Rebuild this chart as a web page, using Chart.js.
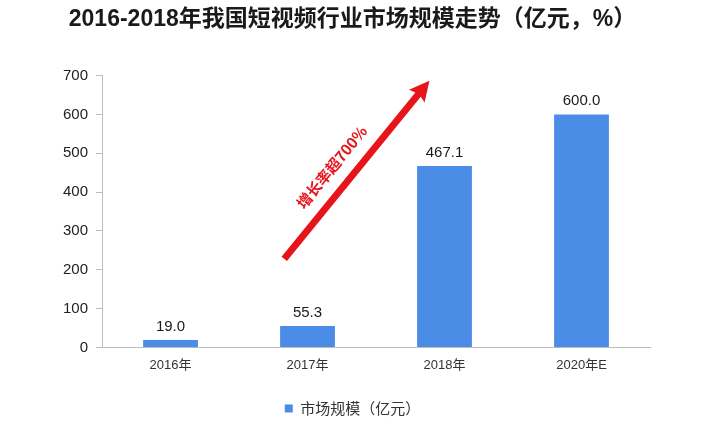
<!DOCTYPE html>
<html>
<head>
<meta charset="utf-8">
<script src="https://cdn.jsdelivr.net/npm/chart.js@4.4.1/dist/chart.umd.min.js"></script>
<style>
  html, body { margin: 0; padding: 0; background: #fff; }
  #wrap { width: 702px; height: 421px; }
</style>
</head>
<body>
<div id="wrap"><canvas id="marketChart" width="702" height="421"></canvas></div>
<script>
const categories = ["2016年", "2017年", "2018年", "2020年E"];
const marketSize = [19.0, 55.3, 467.1, 600.0];
const yTicks = [0, 100, 200, 300, 400, 500, 600, 700];

// arrow start / end in data units (category index, value)
const arrowFrom = [0.83, 228];
const arrowTo = [1.89, 687];
const arrowText = "增长率超700%";

const latin = "'Liberation Sans', 'Noto Sans CJK SC', sans-serif";

// value labels above each bar
const barLabels = {
  id: "barLabels",
  afterDatasetsDraw(chart) {
    const ctx = chart.ctx;
    const meta = chart.getDatasetMeta(0);
    ctx.save();
    ctx.fillStyle = "#1a1a1a";
    ctx.font = "15px " + latin;
    ctx.textAlign = "center";
    ctx.textBaseline = "bottom";
    meta.data.forEach((bar, i) => {
      ctx.fillText(marketSize[i].toFixed(1), bar.x, bar.y - 6);
    });
    ctx.restore();
  }
};

// red growth arrow with rotated caption
const growthArrow = {
  id: "growthArrow",
  afterDatasetsDraw(chart) {
    const ctx = chart.ctx;
    const x = chart.scales.x, y = chart.scales.y;
    const x0 = x.getPixelForValue(arrowFrom[0]), y0 = y.getPixelForValue(arrowFrom[1]);
    const x1 = x.getPixelForValue(arrowTo[0]), y1 = y.getPixelForValue(arrowTo[1]);
    const ang = Math.atan2(y1 - y0, x1 - x0);
    const len = Math.hypot(x1 - x0, y1 - y0);
    ctx.save();
    ctx.translate(x0, y0);
    ctx.rotate(ang);
    ctx.fillStyle = "#e8141b";
    ctx.beginPath();
    ctx.moveTo(0, -3.5);
    ctx.lineTo(len - 18, -3.5);
    ctx.lineTo(len - 20, -10);
    ctx.lineTo(len, 0);
    ctx.lineTo(len - 20, 10);
    ctx.lineTo(len - 18, 3.5);
    ctx.lineTo(0, 3.5);
    ctx.closePath();
    ctx.fill();
    ctx.font = "bold 15px 'Noto Sans CJK SC', sans-serif";
    ctx.textAlign = "center";
    ctx.textBaseline = "middle";
    ctx.fillText(arrowText, len * 0.44, -21);
    ctx.restore();
  }
};

new Chart(document.getElementById("marketChart"), {
  type: "bar",
  data: {
    labels: categories,
    datasets: [{
      label: "市场规模（亿元）",
      data: marketSize,
      backgroundColor: "#4a8ce6",
      barPercentage: 0.8,
      categoryPercentage: 0.5
    }]
  },
  options: {
    responsive: false,
    animation: false,
    layout: { padding: { left: 55, right: 52, top: 0, bottom: -5 } },
    plugins: {
      title: {
        display: true,
        text: "2016-2018年我国短视频行业市场规模走势（亿元，%）",
        color: "#1a1a1a",
        font: { family: "'Liberation Sans', 'Noto Sans CJK SC', sans-serif", size: 23, weight: "bold" },
        padding: { top: 6, bottom: 42 }
      },
      legend: {
        position: "bottom",
        labels: {
          color: "#333",
          font: { family: "'Noto Sans CJK SC', sans-serif", size: 15 },
          boxWidth: 8,
          boxHeight: 8,
          padding: 24
        }
      },
      tooltip: { enabled: false }
    },
    scales: {
      x: {
        offset: true,
        grid: { display: false, drawOnChartArea: false, offset: true, tickLength: 6, color: "#bdbdbd" },
        border: { color: "#bdbdbd" },
        ticks: { color: "#333", font: { family: latin, size: 13 }, padding: 4 }
      },
      y: {
        min: 0,
        max: 700,
        afterBuildTicks(axis) { axis.ticks = yTicks.map(v => ({ value: v })); },
        grid: { drawOnChartArea: false, tickLength: 6, color: "#bdbdbd" },
        border: { color: "#bdbdbd" },
        ticks: { color: "#222", font: { family: latin, size: 15 }, padding: 8 }
      }
    }
  },
  plugins: [barLabels, growthArrow]
});
</script>
</body>
</html>
